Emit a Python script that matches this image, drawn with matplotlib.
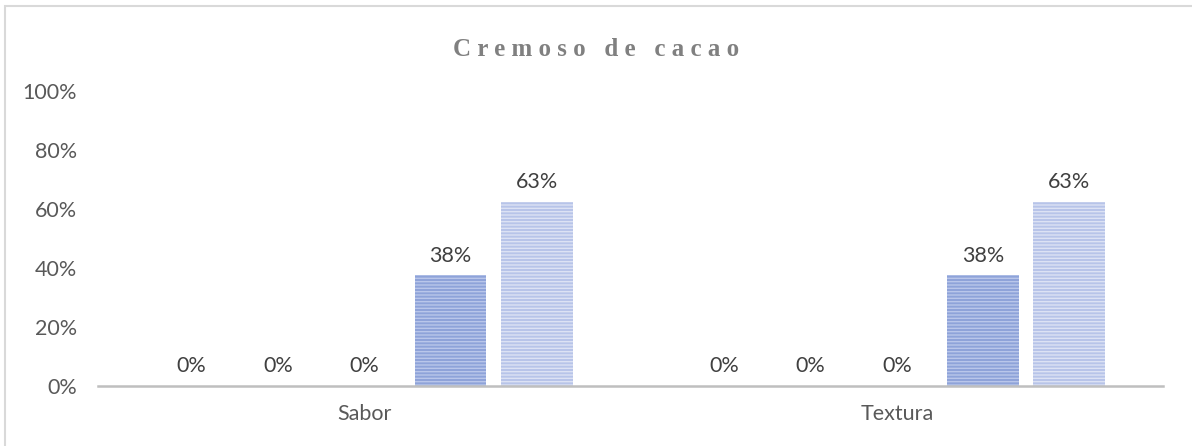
import numpy as np
import matplotlib.pyplot as plt
from matplotlib.patches import Rectangle
from matplotlib.ticker import PercentFormatter

# ── Datos ──────────────────────────────────────────────────────────────────────
categorias = ["Sabor", "Textura"]
serie_1 = [0.0, 0.0]
serie_2 = [0.0, 0.0]
serie_3 = [0.0, 0.0]
serie_4 = [0.375, 0.375]
serie_5 = [0.625, 0.625]
series = [serie_1, serie_2, serie_3, serie_4, serie_5]

face_colors = ["#8EA3D9", "#8EA3D9", "#8EA3D9", "#8EA3D9", "#B7C4E9"]
hatch_colors = ["#B9C6EA", "#B9C6EA", "#B9C6EA", "#B9C6EA", "#DCE2F4"]

plt.rcParams["hatch.linewidth"] = 1.0
plt.rcParams["font.family"] = ["Lato", "DejaVu Sans"]


def pct(v):
    # redondeo tipo Excel (0.625 -> 63%)
    return f"{int(v * 100 + 0.5)}%"


fig = plt.figure(figsize=(11.92, 4.46), dpi=100)
ax = fig.add_axes([0.0822, 0.1345, 0.8935, 0.6614])

# marco del gráfico
fig.patches.append(Rectangle((5 / 1192, -0.1), 1.2, 1 - 6 / 446 + 0.1,
                             transform=fig.transFigure, fill=False,
                             edgecolor="#D9D9D9", linewidth=1.5))

x = np.arange(len(categorias))
ancho = 0.135
paso = 0.162
for i, vals in enumerate(series):
    pos = x + (i - 2) * paso
    bars = ax.bar(pos, vals, width=ancho, color=face_colors[i],
                  edgecolor=hatch_colors[i], linewidth=0, hatch="-----")
    ax.bar_label(bars, labels=[pct(v) for v in vals], padding=7,
                 fontsize=15.5, color="#404040")

ax.set_xlim(-0.5, 1.5)
ax.set_ylim(0, 1)
ax.set_yticks(np.arange(0, 1.01, 0.2))
ax.yaxis.set_major_formatter(PercentFormatter(1.0, decimals=0))
ax.set_xticks(x)
ax.set_xticklabels(categorias)
ax.tick_params(axis="both", length=0, labelsize=15.5, colors="#595959")
ax.tick_params(axis="y", pad=15)
ax.tick_params(axis="x", pad=13)

for s in ["top", "right", "left"]:
    ax.spines[s].set_visible(False)
ax.spines["bottom"].set_color("#BFBFBF")
ax.spines["bottom"].set_linewidth(1.8)

fig.text(0.5, 1 - 49 / 446, " ".join("Cremoso de cacao"), ha="center",
         va="center", fontsize=18, fontweight="bold", color="#808080",
         family="Liberation Serif")

fig.savefig("out.png", dpi=100)
